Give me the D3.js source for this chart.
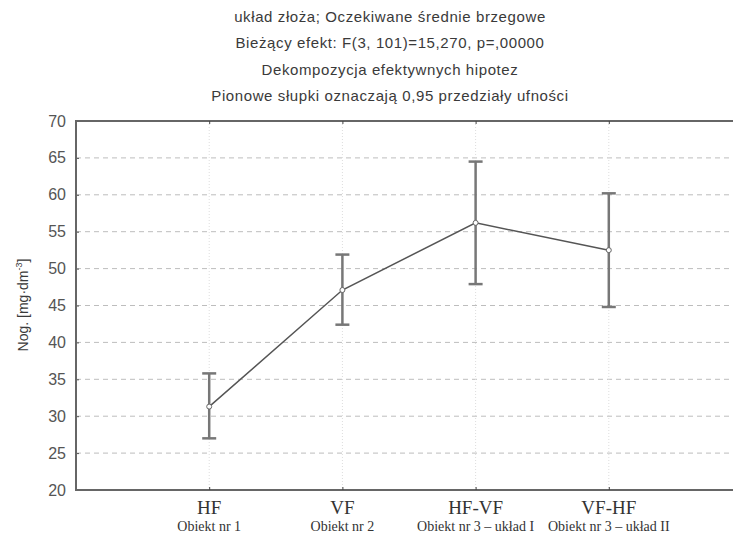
<!DOCTYPE html>
<html>
<head>
<meta charset="utf-8">
<script src="https://cdn.jsdelivr.net/npm/d3@7"></script>
<style>
  body { margin: 0; background: #fff; }
  svg { display: block; }
</style>
</head>
<body>
<div id="chart"></div>
<script>
// dane
const categories = ["HF", "VF", "HF-VF", "VF-HF"];
const subLabels = ["Obiekt nr 1", "Obiekt nr 2", "Obiekt nr 3 – układ I", "Obiekt nr 3 – układ II"];
const means = [31.3, 47.1, 56.2, 52.5];
const upper = [35.8, 51.9, 64.5, 60.2];
const lower = [27.0, 42.4, 47.9, 44.8];
const yTicks = [20, 25, 30, 35, 40, 45, 50, 55, 60, 65, 70];
const titleLines = [
    "układ złoża; Oczekiwane średnie brzegowe",
    "Bieżący efekt: F(3, 101)=15,270, p=,00000",
    "Dekompozycja efektywnych hipotez",
    "Pionowe słupki oznaczają 0,95 przedziały ufności"
];

const width = 733, height = 535;
const plotLeft = 76, plotRight = 742, plotTop = 121, plotBottom = 490;

const svg = d3.select("#chart").append("svg")
    .attr("width", width)
    .attr("height", height);

const x = d3.scalePoint().domain(categories).range([plotLeft, plotRight]).padding(1);
const y = d3.scaleLinear().domain([20, 70]).range([plotBottom, plotTop]);

// tytuł
svg.append("g").selectAll("text")
    .data(titleLines)
    .enter().append("text")
    .attr("x", 390)
    .attr("y", (d, i) => 22 + i * 26.3)
    .attr("text-anchor", "middle")
    .style("font-family", "Liberation Sans, Arial, sans-serif")
    .style("font-size", "15px")
    .style("letter-spacing", "0.6px")
    .style("fill", "#3a3a3a")
    .text(d => d);

// siatka pozioma
svg.append("g").selectAll("line")
    .data(yTicks.filter(t => t > 20 && t < 70))
    .enter().append("line")
    .attr("x1", plotLeft).attr("x2", width)
    .attr("y1", d => y(d)).attr("y2", d => y(d))
    .attr("stroke", "#bdbdbd")
    .attr("stroke-width", 1)
    .attr("stroke-dasharray", "5,4");

// siatka pionowa (kropkowana)
svg.append("g").selectAll("line")
    .data(categories)
    .enter().append("line")
    .attr("x1", d => x(d)).attr("x2", d => x(d))
    .attr("y1", plotTop).attr("y2", plotBottom)
    .attr("stroke", "#dddddd")
    .attr("stroke-width", 1)
    .attr("stroke-dasharray", "1,2");

// oś Y
const yAxis = svg.append("g")
    .attr("transform", `translate(${plotLeft},0)`)
    .call(d3.axisRight(y).tickValues(yTicks).tickSize(3).tickFormat(""));
yAxis.select(".domain").remove();
yAxis.selectAll("line").attr("stroke", "#555");

svg.append("g").selectAll("text")
    .data(yTicks)
    .enter().append("text")
    .attr("x", 66)
    .attr("y", d => y(d) + 5.5)
    .attr("text-anchor", "end")
    .style("font-family", "Liberation Sans, Arial, sans-serif")
    .style("font-size", "16px")
    .style("fill", "#555")
    .text(d => d);

// ramka
svg.append("path")
    .attr("d", `M${width},${plotTop}H${plotLeft}V${plotBottom}H${width}`)
    .attr("fill", "none")
    .attr("stroke", "#666")
    .attr("stroke-width", 2);

// znaczniki kategorii
const xTop = svg.append("g")
    .attr("transform", `translate(0,${plotTop})`)
    .call(d3.axisBottom(x).tickSize(3).tickFormat(""));
xTop.select(".domain").remove();
xTop.selectAll("line").attr("stroke", "#444");
const xBot = svg.append("g")
    .attr("transform", `translate(0,${plotBottom})`)
    .call(d3.axisTop(x).tickSize(3).tickFormat(""));
xBot.select(".domain").remove();
xBot.selectAll("line").attr("stroke", "#444");

// etykiety osi X
svg.append("g").selectAll("text")
    .data(categories)
    .enter().append("text")
    .attr("x", d => x(d))
    .attr("y", 514)
    .attr("text-anchor", "middle")
    .style("font-family", "Liberation Serif, Times New Roman, serif")
    .style("font-size", "19px")
    .style("fill", "#333")
    .text(d => d);

svg.append("g").selectAll("text")
    .data(subLabels)
    .enter().append("text")
    .attr("x", (d, i) => x(categories[i]))
    .attr("y", 531)
    .attr("text-anchor", "middle")
    .style("font-family", "Liberation Serif, Times New Roman, serif")
    .style("font-size", "14px")
    .style("fill", "#333")
    .text(d => d);

// tytuł osi Y
const yLabel = svg.append("text")
    .attr("transform", "translate(28,305) rotate(-90)")
    .attr("text-anchor", "middle")
    .style("font-family", "Liberation Sans, Arial, sans-serif")
    .style("font-size", "14px")
    .style("fill", "#3a3a3a");
yLabel.append("tspan").text("Nog. [mg·dm");
yLabel.append("tspan").attr("dy", -6).style("font-size", "9px").text("-3");
yLabel.append("tspan").attr("dy", 6).text("]");

// słupki błędów
const bars = svg.append("g").selectAll("g")
    .data(categories)
    .enter().append("g")
    .attr("stroke", "#777")
    .attr("stroke-width", 2.5);
bars.append("line")
    .attr("x1", d => x(d)).attr("x2", d => x(d))
    .attr("y1", (d, i) => y(upper[i])).attr("y2", (d, i) => y(lower[i]));
bars.append("line")
    .attr("x1", d => x(d) - 7).attr("x2", d => x(d) + 7)
    .attr("y1", (d, i) => y(upper[i])).attr("y2", (d, i) => y(upper[i]));
bars.append("line")
    .attr("x1", d => x(d) - 7).attr("x2", d => x(d) + 7)
    .attr("y1", (d, i) => y(lower[i])).attr("y2", (d, i) => y(lower[i]));

// linia średnich
const line = d3.line()
    .x((d, i) => x(categories[i]))
    .y(d => y(d));
svg.append("path")
    .datum(means)
    .attr("d", line)
    .attr("fill", "none")
    .attr("stroke", "#555")
    .attr("stroke-width", 1.5);

svg.append("g").selectAll("circle")
    .data(means)
    .enter().append("circle")
    .attr("cx", (d, i) => x(categories[i]))
    .attr("cy", d => y(d))
    .attr("r", 2.5)
    .attr("fill", "#fff")
    .attr("stroke", "#666")
    .attr("stroke-width", 1);
</script>
</body>
</html>
